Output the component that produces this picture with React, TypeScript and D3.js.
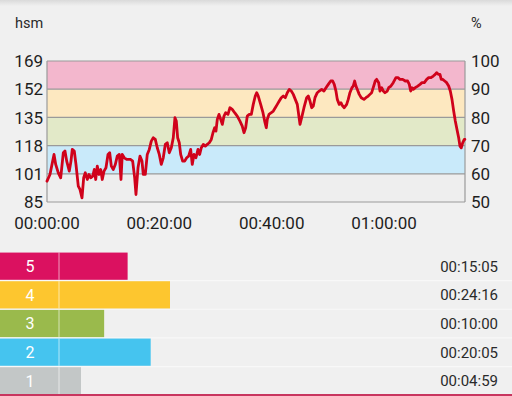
import React from "react";
import * as d3 from "d3";

// Heart-rate samples (time in minutes, heart rate in bpm)
const timeMin = [
  0, 0.53, 1.01, 1.25, 1.55, 2.01, 2.44, 2.9, 3.2, 3.51, 3.97, 4.27, 4.5, 4.86, 5.16, 5.57, 5.87, 6.23, 6.53, 6.82,
  7.17, 7.48, 7.78, 8.14, 8.42, 8.67, 8.95, 9.26, 9.56, 9.84, 10.15, 10.5, 10.86, 11.16, 11.45, 11.8, 12.16, 12.51, 12.87, 13.17,
  13.4, 13.76, 14.19, 14.65, 14.9, 15.25, 15.61, 15.84, 16.2, 16.55, 16.91, 17.14, 17.5, 17.85, 18.21, 18.57, 18.92, 19.28, 19.63, 19.99,
  20.35, 20.7, 21.06, 21.41, 21.77, 22.13, 22.48, 22.78, 23.02, 23.26, 23.55, 23.8, 24.15, 24.51, 24.87, 25.22, 25.58, 25.86, 26.17, 26.52,
  26.88, 27.18, 27.47, 27.82, 28.18, 28.53, 28.89, 29.25, 29.55, 29.85, 30.08, 30.32, 30.62, 30.92, 31.21, 31.51, 31.81, 32.22, 32.57, 32.98,
  33.41, 33.87, 34.35, 34.76, 35.07, 35.37, 35.65, 36.01, 36.37, 36.72, 37.08, 37.33, 37.61, 38.04, 38.45, 38.75, 39.04, 39.22, 39.52, 39.93,
  40.29, 40.64, 41.0, 41.35, 41.71, 42.06, 42.42, 42.78, 43.13, 43.49, 43.85, 44.2, 44.56, 45.04, 45.4, 45.75, 46.23, 46.52, 46.82, 47.12,
  47.41, 47.71, 48.12, 48.47, 48.9, 49.31, 49.67, 50.08, 50.51, 50.86, 51.14, 51.44, 51.68, 52.03, 52.33, 52.64, 52.92, 53.35, 53.63, 53.93,
  54.29, 54.52, 54.77, 55.0, 55.23, 55.59, 55.95, 56.43, 56.78, 57.19, 57.49, 57.8, 58.08, 58.44, 58.69, 59.05, 59.28, 59.58, 59.87, 60.17,
  60.58, 60.83, 61.23, 61.64, 62.12, 62.48, 62.83, 63.32, 63.78, 64.21, 64.5, 64.75, 64.98, 65.21, 65.57, 66.0, 66.41, 66.76, 67.17, 67.6,
  67.95, 68.36, 68.77, 69.12, 69.37, 69.66, 69.96, 70.19, 70.44, 70.8, 71.15, 71.51, 71.8, 72.1, 72.4, 72.69, 72.99, 73.29, 73.52, 73.75,
  74.0, 74.29, 74.4,
];
const heartRate = [
  97, 101, 109, 113, 107, 102, 99, 114, 115, 109, 103, 109, 116, 115, 107, 94, 92, 87, 99, 102,
  98, 101, 99, 100, 104, 98, 106, 101, 104, 98, 103, 105, 113, 114, 106, 104, 107, 112, 113, 98,
  113, 111, 110, 110, 110, 109, 99, 89, 105, 112, 109, 101, 101, 113, 116, 121, 123, 122, 117, 113,
  107, 111, 119, 120, 114, 117, 123, 135, 133, 123, 120, 113, 109, 109, 111, 112, 116, 107, 113, 111,
  116, 113, 117, 119, 118, 119, 120, 122, 126, 129, 127, 134, 137, 134, 131, 136, 138, 137, 141, 140,
  138, 136, 133, 130, 126, 129, 136, 137, 137, 143, 148, 150, 148, 143, 138, 133, 129, 134, 137, 138,
  139, 141, 143, 145, 147, 148, 147, 150, 152, 151, 149, 146, 143, 131, 136, 141, 147, 148, 145, 141,
  142, 147, 150, 151, 152, 151, 153, 155, 157, 157, 155, 151, 146, 143, 144, 142, 141, 143, 146, 150,
  153, 154, 157, 154, 152, 149, 147, 146, 147, 148, 149, 150, 153, 157, 158, 156, 151, 153, 151, 150,
  151, 153, 154, 156, 159, 159, 158, 158, 157, 157, 155, 151, 153, 152, 153, 154, 155, 156, 156, 158,
  159, 159, 160, 161, 162, 161, 161, 158, 158, 157, 156, 154, 151, 146, 139, 133, 128, 123, 118, 117,
  120, 122, 122,
];

const maxHR = 169;
const totalSeconds = 4465;
const hrTicks = [85, 101, 118, 135, 152, 169];
const pctTicks = [50, 60, 70, 80, 90, 100];
const timeTicks = [0, 1200, 2400, 3600];
const bandColors = ["#eeeeee", "#c9eafa", "#e2e9c8", "#fde8c0", "#f3b7cd"];

const zoneLabels = ["5", "4", "3", "2", "1"];
const zoneSeconds = [905, 1456, 600, 1205, 299];
const zoneTimes = ["00:15:05", "00:24:16", "00:10:00", "00:20:05", "00:04:59"];
const zoneColors = ["#db1160", "#fdc62f", "#9aba4c", "#45c4ef", "#c3c7c7"];

const fmt = (s: number) => {
  const h = Math.floor(s / 3600);
  const m = Math.floor((s % 3600) / 60);
  const sec = s % 60;
  const p = (n: number) => String(n).padStart(2, "0");
  return `${p(h)}:${p(m)}:${p(sec)}`;
};

export default function App() {
  const W = 512;
  const H = 396;
  const x = d3.scaleLinear().domain([0, totalSeconds]).range([47, 465]);
  const y = d3.scaleLinear().domain([50, 100]).range([202, 61]);
  const data = timeMin.map((t, i) => ({ t: t * 60, hr: heartRate[i] }));
  const line = d3
    .line<{ t: number; hr: number }>()
    .x((d) => x(d.t))
    .y((d) => y((d.hr / maxHR) * 100));

  const rowY = d3.scaleBand<string>().domain(zoneLabels).range([252, 395]).paddingInner(0.05).paddingOuter(0.02);
  const barX = d3.scaleLinear().domain([0, 1456]).range([58, 170]);

  const font = "Roboto, 'Noto Sans', sans-serif";

  return (
    <svg width={W} height={H} style={{ position: "absolute", left: 0, top: 0, display: "block" }} fontFamily={font}>
      <defs>
        <linearGradient id="topShadow" x1="0" y1="0" x2="0" y2="1">
          <stop offset="0" stopColor="#dadada" />
          <stop offset="1" stopColor="#f0f0f0" />
        </linearGradient>
      </defs>
      <rect width={W} height={H} fill="#f0f0f0" />
      <rect width={W} height={6} fill="url(#topShadow)" />

      <text x={15} y={28} fontSize={14.5} fill="#2a2a2a">hsm</text>
      <text x={471} y={28} fontSize={14.5} fill="#2a2a2a">%</text>

      {/* zone bands */}
      {bandColors.map((c, i) => (
        <rect key={i} x={x(0)} width={x(totalSeconds) - x(0)} y={y(pctTicks[i + 1])} height={y(pctTicks[i]) - y(pctTicks[i + 1])} fill={c} />
      ))}
      {pctTicks.map((p) => (
        <line key={p} x1={x(0)} x2={x(totalSeconds)} y1={y(p)} y2={y(p)} stroke="#9a9a9a" strokeWidth={1.2} />
      ))}
      <line x1={x(0)} x2={x(0)} y1={y(100)} y2={y(50)} stroke="#9a9a9a" strokeWidth={1.2} />
      <line x1={x(totalSeconds)} x2={x(totalSeconds)} y1={y(100)} y2={y(50)} stroke="#9a9a9a" strokeWidth={1.2} />

      <path d={line(data) || ""} fill="none" stroke="#d0021b" strokeWidth={2.8} strokeLinejoin="round" strokeLinecap="round" />

      {hrTicks.map((v, i) => (
        <text key={v} x={43} y={y(pctTicks[i])} dy="0.36em" textAnchor="end" fontSize={17} fill="#1e1e1e">
          {v}
        </text>
      ))}
      {pctTicks.map((p) => (
        <text key={p} x={471} y={y(p)} dy="0.36em" textAnchor="start" fontSize={17} fill="#1e1e1e">
          {p}
        </text>
      ))}
      {timeTicks.map((t) => (
        <text key={t} x={x(t)} y={229} textAnchor="middle" fontSize={17} fill="#1e1e1e">
          {fmt(t)}
        </text>
      ))}

      {/* zone duration bars */}
      {zoneLabels.map((z, i) => {
        const y0 = rowY(z) as number;
        const bh = rowY.bandwidth();
        return (
          <g key={z}>
            <line x1={0} x2={W} y1={y0 + bh + 0.8} y2={y0 + bh + 0.8} stroke="#f8f8f8" strokeWidth={1.2} />
            <rect x={0} y={y0} width={barX(zoneSeconds[i])} height={bh} fill={zoneColors[i]} />
            <line x1={59} x2={59} y1={y0} y2={y0 + bh} stroke="#ffffff" strokeOpacity={0.6} strokeWidth={1} />
            <text x={30} y={y0 + bh / 2} dy="0.36em" textAnchor="middle" fontSize={16} fill="#ffffff">
              {z}
            </text>
            <text x={498} y={y0 + bh / 2} dy="0.36em" textAnchor="end" fontSize={15} fill="#2a2a2a">
              {zoneTimes[i]}
            </text>
          </g>
        );
      })}
      <rect x={0} y={394} width={W} height={2} fill="#c8355f" />
    </svg>
  );
}
